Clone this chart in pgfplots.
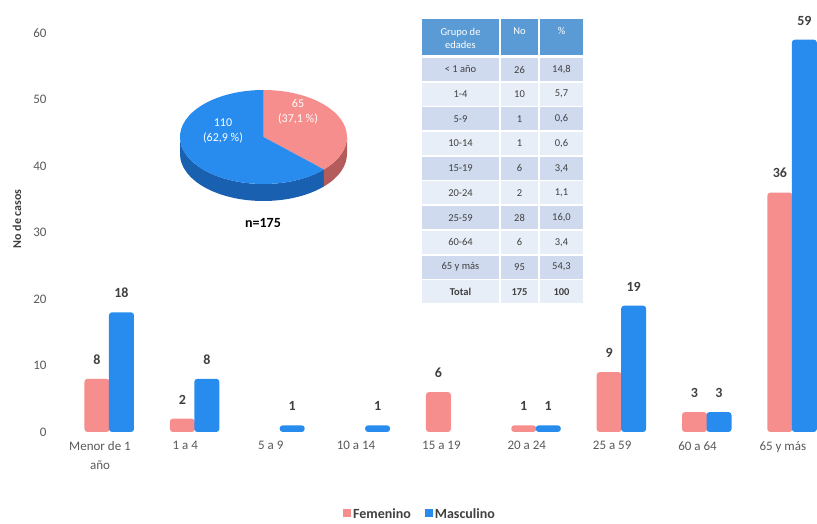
\documentclass[border=0pt]{standalone}
\usepackage{pgfplots}
\pgfplotsset{compat=1.18}
\usepackage{fontspec}
\setmainfont{Carlito}
\definecolor{pinkF}{RGB}{247,142,142}
\definecolor{pinkD}{RGB}{180,92,92}
\definecolor{blueM}{RGB}{40,140,238}
\definecolor{blueD}{RGB}{26,96,176}
\definecolor{thead}{RGB}{91,155,213}
\definecolor{tdark}{RGB}{207,218,238}
\definecolor{tlight}{RGB}{232,238,247}
\definecolor{txtg}{RGB}{89,89,89}
\definecolor{labc}{RGB}{64,64,64}
\newcommand{\fs}[1]{\fontsize{#1}{#1}\selectfont}
\newcommand{\trow}[5]{%
  \pgfmathsetmacro{\yt}{464-24.7*#1}%
  \pgfmathsetmacro{\yb}{\yt-23}%
  \pgfmathsetmacro{\ym}{\yt-11.5}%
  \fill[#5] (422,\yt) rectangle (499,\yb);
  \fill[#5] (501,\yt) rectangle (538,\yb);
  \fill[#5] (540,\yt) rectangle (583,\yb);
  \node[text=labc,font=\fs{10.5}] at (460.5,\ym) {#2};
  \node[text=labc,font=\fs{10.5}] at (519.5,\ym) {#3};
  \node[text=labc,font=\fs{10.5}] at (561.5,\ym) {#4};
}
\begin{document}
\begin{tikzpicture}[x=1pt,y=1pt]
\path (0,0) rectangle (817,522);
\begin{axis}[
  at={(55pt,90pt)}, anchor=south west, scale only axis,
  width=762pt, height=399pt,
  xmin=-0.527, xmax=8.4, ymin=0, ymax=60,
  clip=false,
  axis line style={draw=none}, tick style={draw=none},
  /pgf/number format/assume math mode=true,
  ytick={0,10,...,60},
  xtick={0,...,8},
  xticklabels={{Menor de 1\\año},{1 a 4},{5 a 9},{10 a 14},{15 a 19},{20 a 24},{25 a 59},{60 a 64},{65 y más}},
  xticklabel style={align=center, text=txtg, font=\fontsize{13}{19}\selectfont, yshift=-6pt},
  yticklabel style={text=txtg, font=\fs{13}, xshift=-5pt},
  ylabel={No de casos},
  ylabel style={at={(axis description cs:-0.05,0.534)}, anchor=center, font=\bfseries\fs{12}, text=labc},
  nodes near coords,
  every node near coord/.append style={font=\bfseries\fs{14}, text=labc, yshift=11pt},
  legend style={at={(axis description cs:0.479,-0.2055)}, anchor=center, draw=none,
    legend columns=2, font=\bfseries\fs{14}, text=labc,
    /tikz/every even column/.append style={column sep=12pt}},
]
\addplot[ybar, bar width=25pt, bar shift=-3pt, fill=pinkF, draw=none, rounded corners=3pt,
  every node near coord/.append style={xshift=-3pt},
  legend image code/.code={\fill[pinkF, sharp corners] (0pt,-3pt) rectangle (8pt,5pt);}]
  coordinates {(0,8) (1,2) (4,6) (5,1) (6,9) (7,3) (8,36)};
\addlegendentry{Femenino}
\addplot[ybar, bar width=25pt, bar shift=21.5pt, fill=blueM, draw=none, rounded corners=3pt,
  every node near coord/.append style={xshift=21.5pt},
  legend image code/.code={\fill[blueM, sharp corners] (0pt,-3pt) rectangle (8pt,5pt);}]
  coordinates {(0,18) (1,8) (2,1) (3,1) (5,1) (6,19) (7,3) (8,59)};
\addlegendentry{Masculino}
\end{axis}
% pie chart (F=65, M=110)
\pgfmathsetmacro{\aone}{90-65/175*360}
\pgfmathsetmacro{\atwo}{360+\aone}
\begin{scope}[shift={(263.5,385)}]
  \fill[blueD] (180:83.5 and 47) arc[start angle=180, end angle=\atwo, x radius=83.5, y radius=47]
    -- ++(0,-17) arc[start angle=\atwo, end angle=180, x radius=83.5, y radius=47] -- cycle;
  \fill[pinkD] (\atwo:83.5 and 47) arc[start angle=\atwo, end angle=360, x radius=83.5, y radius=47]
    -- ++(0,-17) arc[start angle=360, end angle=\atwo, x radius=83.5, y radius=47] -- cycle;
  \fill[pinkF] (0,0) -- (90:83.5 and 47) arc[start angle=90, end angle=\aone, x radius=83.5, y radius=47] -- cycle;
  \fill[blueM] (0,0) -- (\aone:83.5 and 47) arc[start angle=\aone, end angle=-270, x radius=83.5, y radius=47] -- cycle;
\end{scope}
\node[align=center, text=white, font=\fontsize{12}{15}\selectfont] at (298,410) {65\\(37,1 \%)};
\node[align=center, text=white, font=\fontsize{12}{15}\selectfont] at (223,391) {110\\(62,9 \%)};
\node[font=\bfseries\fs{14}, text=black] at (263,299) {n=175};
% table
\fill[thead] (422,503) rectangle (499,467);
\fill[thead] (501,503) rectangle (538,467);
\fill[thead] (540,503) rectangle (583,467);
\node[align=center, text=white, font=\fontsize{10.5}{13}\selectfont] at (460.5,484) {Grupo de\\edades};
\node[text=white, font=\fs{10.5}] at (519.5,491) {No};
\node[text=white, font=\fs{10.5}] at (561.5,491) {\%};
\trow{0}{< 1 año}{26}{14,8}{tdark}
\trow{1}{1-4}{10}{5,7}{tlight}
\trow{2}{5-9}{1}{0,6}{tdark}
\trow{3}{10-14}{1}{0,6}{tlight}
\trow{4}{15-19}{6}{3,4}{tdark}
\trow{5}{20-24}{2}{1,1}{tlight}
\trow{6}{25-59}{28}{16,0}{tdark}
\trow{7}{60-64}{6}{3,4}{tlight}
\trow{8}{65 y más}{95}{54,3}{tdark}
\trow{9}{\textbf{Total}}{\textbf{175}}{\textbf{100}}{tlight}
\end{tikzpicture}
\end{document}
